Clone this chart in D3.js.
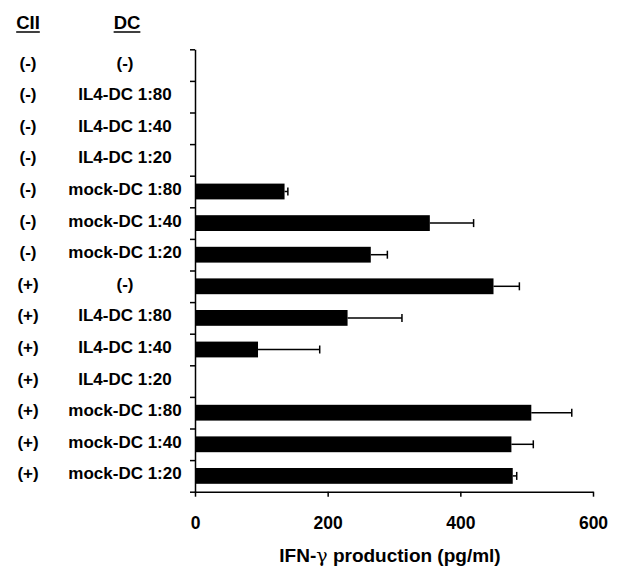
<!DOCTYPE html>
<html>
<head>
<meta charset="utf-8">
<script src="https://cdn.jsdelivr.net/npm/d3@7"></script>
<style>
  html, body { margin: 0; padding: 0; background: #fff; }
  svg { display: block; }
  text { font-family: "Liberation Sans", Arial, Helvetica, sans-serif; font-weight: bold; fill: #000; }
</style>
</head>
<body>
<svg id="chart" width="627" height="571"></svg>
<script>
// ---- data ----
const cii = ["(-)", "(-)", "(-)", "(-)", "(-)", "(-)", "(-)",
             "(+)", "(+)", "(+)", "(+)", "(+)", "(+)", "(+)"];
const dc = ["(-)", "IL4-DC 1:80", "IL4-DC 1:40", "IL4-DC 1:20",
            "mock-DC 1:80", "mock-DC 1:40", "mock-DC 1:20",
            "(-)", "IL4-DC 1:80", "IL4-DC 1:40", "IL4-DC 1:20",
            "mock-DC 1:80", "mock-DC 1:40", "mock-DC 1:20"];
const values = [0, 0, 0, 0, 135, 354, 265, 450, 230, 95, 0, 507, 477, 479];
const errors = [0, 0, 0, 0, 5, 66, 25, 39, 82, 93, 0, 61, 33, 6];
const xTicks = [0, 200, 400, 600];
const headers = ["CII", "DC"];
const xTitleParts = ["IFN-", "γ", " production (pg/ml)"];

// ---- layout ----
const svg = d3.select("#chart");
const plotTop = 49.3, plotBottom = 491.7, plotLeft = 195, plotRight = 593;
const idx = d3.range(values.length);

const x = d3.scaleLinear().domain([0, 600]).range([plotLeft, plotRight]);
const y = d3.scaleBand().domain(idx).range([plotTop, plotBottom]).paddingInner(0.5).paddingOuter(0.25);
const yEdge = d3.scaleLinear().domain([0, values.length]).range([plotTop, plotBottom]);

// y axis (ticks at category boundaries)
const yAxis = svg.append("g")
  .attr("transform", `translate(${plotLeft},0)`)
  .call(d3.axisLeft(yEdge).tickValues(d3.range(0, values.length + 1)).tickFormat("").tickSize(5).tickSizeOuter(0));
yAxis.selectAll("path, line").attr("stroke", "#000").attr("stroke-width", 1.5);

// x axis
const xAxis = svg.append("g")
  .attr("transform", `translate(0,${plotBottom})`)
  .call(d3.axisBottom(x).tickValues(xTicks).tickSize(5).tickSizeOuter(0).tickPadding(20));
xAxis.selectAll("path, line").attr("stroke", "#000").attr("stroke-width", 1.5);
xAxis.selectAll("text").attr("font-size", 17.5).attr("font-weight", "bold")
  .attr("font-family", '"Liberation Sans", Arial, sans-serif').attr("fill", "#000");

// bars
svg.append("g").selectAll("rect")
  .data(idx.filter(i => values[i] > 0))
  .join("rect")
  .attr("x", x(0))
  .attr("y", i => y(i))
  .attr("width", i => x(values[i]) - x(0))
  .attr("height", y.bandwidth())
  .attr("fill", "#000");

// error bars
const eb = svg.append("g").attr("stroke", "#000").attr("stroke-width", 1.5);
idx.filter(i => values[i] > 0).forEach(i => {
  const cy = y(i) + y.bandwidth() / 2;
  eb.append("line").attr("x1", x(values[i])).attr("x2", x(values[i] + errors[i]))
    .attr("y1", cy).attr("y2", cy);
  eb.append("line").attr("x1", x(values[i] + errors[i])).attr("x2", x(values[i] + errors[i]))
    .attr("y1", cy - 4).attr("y2", cy + 4);
});

// row labels
const rowG = svg.append("g");
idx.forEach(i => {
  const cy = yEdge(i + 0.5) + 3.5;
  rowG.append("text").attr("x", 28).attr("y", cy).attr("text-anchor", "middle")
    .attr("font-size", 17).text(cii[i]);
  rowG.append("text").attr("x", 125).attr("y", cy).attr("text-anchor", "middle")
    .attr("font-size", 17).text(dc[i]);
});

// headers (underlined)
const hx = [28, 127];
headers.forEach((h, k) => {
  const t = svg.append("text").attr("x", hx[k]).attr("y", 29).attr("text-anchor", "middle")
    .attr("font-size", 18.5).text(h);
  const w = t.node().getComputedTextLength();
  svg.append("line").attr("x1", hx[k] - w / 2).attr("x2", hx[k] + w / 2)
    .attr("y1", 32).attr("y2", 32).attr("stroke", "#000").attr("stroke-width", 1.5);
});

// x title
const title = svg.append("text").attr("x", 390).attr("y", 562).attr("text-anchor", "middle")
  .attr("font-size", 19);
title.append("tspan").text(xTitleParts[0]);
title.append("tspan").attr("font-weight", "normal").attr("font-family", '"DejaVu Serif", serif').text(xTitleParts[1]);
title.append("tspan").text(xTitleParts[2]);
</script>
</body>
</html>
